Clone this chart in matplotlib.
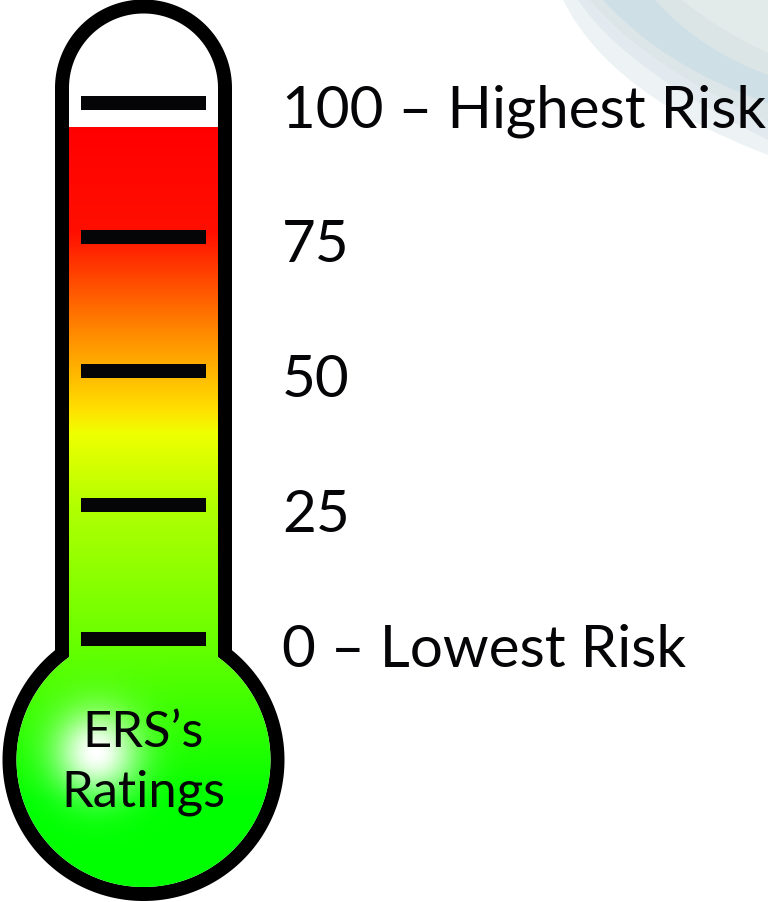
import numpy as np
import matplotlib
matplotlib.use('Agg')
import matplotlib.pyplot as plt
from matplotlib.patches import PathPatch
from matplotlib.path import Path

W, H = 768, 902

tick_values = [0, 25, 50, 75, 100]
tick_labels = ['0 – Lowest Risk', '25', '50', '75', '100 – Highest Risk']
fill_level = 95.4
bulb_lines = ['ERS’s', 'Ratings']

# thermometer colour ramp, pixel row -> rgb
ramp_rows = [127, 232, 330, 410, 432, 505, 640, 800, 902]
ramp_r = [255, 255, 255, 255, 240, 178, 105, 0, 0]
ramp_g = [0, 15, 135, 225, 255, 255, 255, 255, 255]
ramp_b = [0, 0, 0, 0, 0, 0, 0, 0, 0]

# pale swooshes in the top right corner: colour, then bezier control points
swooshes = [
    ('#edf3f5', [(563, 0), (610, 95), (768, 155)]),
    ('#e2eaef', [(578, 0), (625, 70), (768, 140)]),
    ('#dce6e9', [(590, 0), (640, 62), (768, 122)]),
    ('#cfdfe6', [(603, 0), (665, 68), (768, 103)]),
    ('#dbe5e6', [(655, 0), (700, 50), (768, 75)]),
    ('#e2ebe9', [(682, 0), (715, 28), (768, 53)]),
]


def body_path(tube_r, bulb_r, cx=143.5, top_y=88, bulb_y=760):
    # tube with a round cap sitting on a circular bulb
    join = np.arcsin(tube_r / bulb_r)
    cap = np.linspace(np.pi, 0, 80)
    bulb = np.linspace(join, 2 * np.pi - join, 200)
    x = np.r_[cx + tube_r * np.cos(cap), cx + bulb_r * np.sin(bulb)]
    y = np.r_[top_y - tube_r * np.sin(cap), bulb_y - bulb_r * np.cos(bulb)]
    return Path(np.c_[x, y], closed=False)


fig = plt.figure(figsize=(W / 100, H / 100), dpi=100, facecolor='white')

# pixel axes for the body, value axes for ticks and labels
ax = fig.add_axes([0, 0, 1, 1])
ax.set_xlim(0, W)
ax.set_ylim(H, 0)
ax.axis('off')

for colour, pts in swooshes:
    verts = pts + [(W, 0), pts[0]]
    codes = [Path.MOVETO, Path.CURVE3, Path.CURVE3, Path.LINETO, Path.CLOSEPOLY]
    ax.add_patch(PathPatch(Path(verts, codes), fc=colour, ec='none'))

ax.add_patch(PathPatch(body_path(88.5, 141), fc='black', ec='none'))
inner = PathPatch(body_path(74.5, 127), fc='white', ec='none')
ax.add_patch(inner)

# gradient fill, with a soft highlight in the bulb
rows, cols = np.mgrid[0:H, 0:W]
img = np.dstack([np.interp(rows, ramp_rows, c) for c in (ramp_r, ramp_g, ramp_b)]) / 255
glow = np.exp(-((cols - 96) ** 2 + (rows - 752) ** 2) / (2 * 30.0 ** 2))[..., None]
img = img * (1 - glow) + glow

val_ax = fig.add_axes([0, 0, 1, 1], facecolor='none')
px_per_unit = (639 - 102.5) / 100
val_ax.set_xlim(0, W)
val_ax.set_ylim((639 - H) / px_per_unit, 639 / px_per_unit)
val_ax.axis('off')

fill_top = 639 - fill_level * px_per_unit
im = ax.imshow(img[int(fill_top):], extent=(0, W, H, int(fill_top)), aspect='auto',
               interpolation='bilinear', zorder=2)
im.set_clip_path(inner)
ax.set_xlim(0, W)
ax.set_ylim(H, 0)

val_ax.hlines(tick_values, 81, 206, color='#050508', lw=14 * 0.72)
for v, lab in zip(tick_values, tick_labels):
    # baselines sit below their ticks, a little more so further down
    drop = (24.5 + (100 - v) * 0.035) / px_per_unit
    val_ax.text(282, v - drop, lab, fontsize=42, family='Lato',
                color='#050508', va='baseline', ha='left')

for y, line in zip((747, 807), bulb_lines):
    ax.text(143, y, line, fontsize=36.5, family='Lato', color='#050508',
            ha='center', va='baseline', zorder=3)

fig.savefig('out.png', dpi=100)
